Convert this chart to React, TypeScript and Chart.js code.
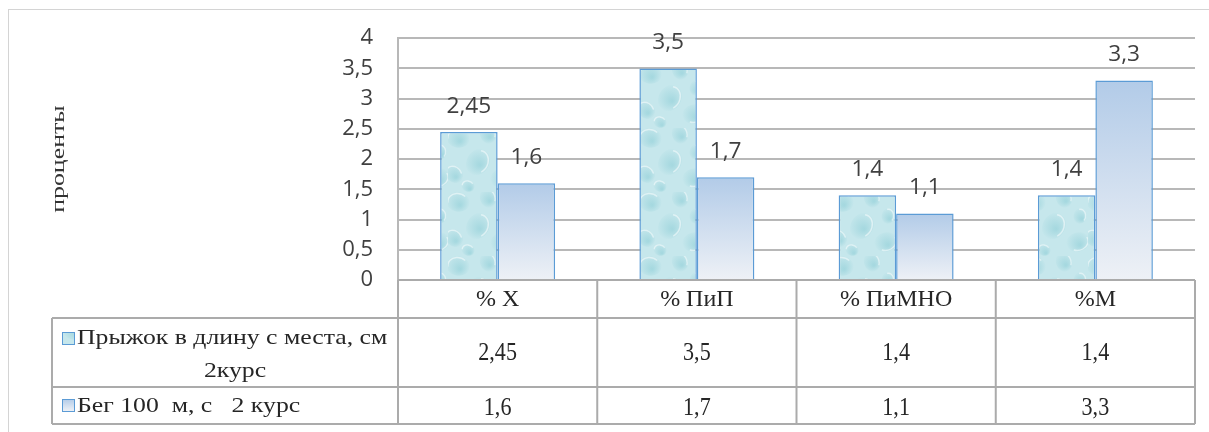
import React, { useEffect, useRef } from 'react';
import { Chart, registerables } from 'chart.js';

Chart.register(...registerables);

// ---------- data ----------
const CATEGORIES = ['% Х', '% ПиП', '% ПиМНО', '%М'];
const JUMP_LABEL_LINES = ['Прыжок в длину с места, см', '2курс'];
const RUN_LABEL = 'Бег 100  м, с   2 курс';
const JUMP_VALUES = [2.45, 3.5, 1.4, 1.4];
const RUN_VALUES = [1.6, 1.7, 1.1, 3.3];
const Y_TICKS = [0, 0.5, 1, 1.5, 2, 2.5, 3, 3.5, 4];
const Y_TITLE = 'проценты';

// ---------- layout / style ----------
const W = 1209;
const H = 432;
const AREA_LEFT = 398;
const PAD_TOP = 35;
const PAD_RIGHT = 14;
const PAD_BOTTOM = 152;
const TABLE_LEFT = 52;
const HEADER_BOTTOM = 318;
const ROW1_BOTTOM = 387;
const ROW2_BOTTOM = 424;
const GRID_COLOR = '#b8b8b8';
const TABLE_LINE = '#ababab';
const TEXT_COLOR = '#404040';
const TABLE_TEXT = '#262626';
const BAR_BORDER = '#5b9bd5';
const SERIF = '"Liberation Serif", "Times New Roman", serif';
const SANS = '"Open Sans", sans-serif';

const fmt = (v: number) => String(v).replace('.', ',');

function makeDropPattern(ctx: CanvasRenderingContext2D): CanvasPattern | string {
  const S = 64;
  const c = document.createElement('canvas');
  c.width = S;
  c.height = S;
  const p = c.getContext('2d');
  if (!p) return '#c4e6eb';
  p.fillStyle = '#c6e7ec';
  p.fillRect(0, 0, S, S);
  const blobs = [
    [10, 10, 12, 0.2],
    [40, 6, 10, 1.3],
    [30, 34, 14, 2.1],
    [6, 46, 10, 0.8],
    [54, 50, 12, 2.9],
    [56, 24, 8, 1.7],
    [20, 58, 7, 0.4],
  ];
  for (const [bx, by, r, a] of blobs) {
    const g = p.createRadialGradient(bx + 2, by + 3, 1, bx, by, r);
    g.addColorStop(0, 'rgba(140,205,214,0.55)');
    g.addColorStop(1, 'rgba(140,205,214,0)');
    p.fillStyle = g;
    p.beginPath();
    p.ellipse(bx, by, r, r * 0.8, a, 0, Math.PI * 2);
    p.fill();
    p.strokeStyle = 'rgba(255,255,255,0.5)';
    p.lineWidth = 1.4;
    p.beginPath();
    p.ellipse(bx, by, r * 0.85, r * 0.7, a, Math.PI * 0.9, Math.PI * 1.7);
    p.stroke();
  }
  return ctx.createPattern(c, 'repeat') || '#c4e6eb';
}

function drawStretched(
  ctx: CanvasRenderingContext2D,
  text: string,
  x: number,
  y: number,
  align: CanvasTextAlign,
  sx: number
) {
  ctx.save();
  ctx.translate(x, y);
  ctx.scale(sx, 1);
  ctx.textAlign = align;
  ctx.textBaseline = 'middle';
  ctx.fillText(text, 0, 0);
  ctx.restore();
}

export default function App() {
  const ref = useRef<HTMLCanvasElement | null>(null);

  useEffect(() => {
    const canvas = ref.current;
    if (!canvas) return;
    const ctx0 = canvas.getContext('2d');
    if (!ctx0) return;
    const pattern = makeDropPattern(ctx0);

    const runGradient = (context: any) => {
      const chart = context.chart;
      const y = chart.scales?.y;
      const v = typeof context.raw === 'number' ? context.raw : NaN;
      if (!y || !isFinite(v)) return '#c3d5ec';
      const top = y.getPixelForValue(v);
      const bottom = y.getPixelForValue(0);
      if (!isFinite(top) || !isFinite(bottom) || top === bottom) return '#c3d5ec';
      const g = chart.ctx.createLinearGradient(0, top, 0, bottom);
      g.addColorStop(0, '#b2cbe8');
      g.addColorStop(1, '#eef1f6');
      return g;
    };

    const labelsPlugin = {
      id: 'valueLabels',
      afterDatasetsDraw(chart: any) {
        const { ctx } = chart;
        ctx.save();
        ctx.fillStyle = TEXT_COLOR;
        ctx.font = `21px ${SANS}`;
        chart.data.datasets.forEach((ds: any, di: number) => {
          const meta = chart.getDatasetMeta(di);
          meta.data.forEach((el: any, i: number) => {
            drawStretched(ctx, fmt(ds.data[i]), el.x, el.y - 25, 'center', 1.08);
          });
        });
        ctx.restore();
      },
    };

    const tablePlugin = {
      id: 'dataTable',
      afterDraw(chart: any) {
        const { ctx, chartArea } = chart;
        const xs = chart.scales.x;
        const n = CATEGORIES.length;
        const left = chartArea.left;
        const right = chartArea.right;
        const bottom = chartArea.bottom;
        ctx.save();

        // outer frame
        ctx.strokeStyle = '#d4d4d4';
        ctx.lineWidth = 1;
        ctx.strokeRect(8.5, 9.5, W + 20, H + 20);

        // table grid
        ctx.strokeStyle = TABLE_LINE;
        ctx.lineWidth = 2;
        ctx.beginPath();
        ctx.moveTo(left, bottom);
        ctx.lineTo(right, bottom);
        for (const yy of [HEADER_BOTTOM, ROW1_BOTTOM, ROW2_BOTTOM]) {
          ctx.moveTo(TABLE_LEFT, yy);
          ctx.lineTo(right, yy);
        }
        ctx.moveTo(TABLE_LEFT, HEADER_BOTTOM);
        ctx.lineTo(TABLE_LEFT, ROW2_BOTTOM);
        for (let i = 0; i <= n; i++) {
          const bx = i === 0 ? left : i === n ? right : (xs.getPixelForValue(i - 1) + xs.getPixelForValue(i)) / 2;
          ctx.moveTo(bx, bottom);
          ctx.lineTo(bx, ROW2_BOTTOM);
        }
        ctx.stroke();

        // header + values
        ctx.fillStyle = TABLE_TEXT;
        CATEGORIES.forEach((c, i) => {
          const cx = xs.getPixelForValue(i);
          ctx.font = `24px ${SERIF}`;
          drawStretched(ctx, c, cx, 300, 'center', 1.0);
          ctx.font = `26px ${SERIF}`;
          drawStretched(ctx, fmt(JUMP_VALUES[i]), cx, 353, 'center', 0.85);
          drawStretched(ctx, fmt(RUN_VALUES[i]), cx, 408, 'center', 0.85);
        });

        // legend keys
        const keyX = 62;
        const keyS = 12;
        ctx.lineWidth = 1;
        ctx.strokeStyle = BAR_BORDER;
        ctx.fillStyle = pattern as any;
        ctx.fillRect(keyX, 332, keyS, keyS);
        ctx.strokeRect(keyX + 0.5, 332.5, keyS, keyS);
        const kg = ctx.createLinearGradient(0, 399, 0, 399 + keyS);
        kg.addColorStop(0, '#b2cbe8');
        kg.addColorStop(1, '#eef1f6');
        ctx.fillStyle = kg;
        ctx.fillRect(keyX, 399, keyS, keyS);
        ctx.strokeRect(keyX + 0.5, 399.5, keyS, keyS);

        // legend texts
        ctx.fillStyle = TABLE_TEXT;
        ctx.font = `22px ${SERIF}`;
        const textLeft = 77;
        const textCenter = 235;
        drawStretched(ctx, JUMP_LABEL_LINES[0], textLeft, 338, 'left', 1.17);
        drawStretched(ctx, JUMP_LABEL_LINES[1], textCenter, 371, 'center', 1.17);
        drawStretched(ctx, RUN_LABEL, textLeft, 406, 'left', 1.17);

        // y title
        ctx.save();
        ctx.fillStyle = '#333333';
        ctx.font = `19px ${SERIF}`;
        ctx.translate(59, (chartArea.top + chartArea.bottom) / 2);
        ctx.rotate(-Math.PI / 2);
        ctx.scale(1.36, 1);
        ctx.textAlign = 'center';
        ctx.textBaseline = 'middle';
        ctx.fillText(Y_TITLE, 0, 0);
        ctx.restore();

        ctx.restore();
      },
    };

    const chart = new Chart(canvas, {
      type: 'bar',
      data: {
        labels: CATEGORIES,
        datasets: [
          {
            label: JUMP_LABEL_LINES.join(' '),
            data: JUMP_VALUES,
            backgroundColor: pattern as any,
            borderColor: BAR_BORDER,
            borderWidth: 1.5,
            barPercentage: 1,
            categoryPercentage: 0.577,
          },
          {
            label: RUN_LABEL,
            data: RUN_VALUES,
            backgroundColor: runGradient as any,
            borderColor: BAR_BORDER,
            borderWidth: 1.5,
            barPercentage: 1,
            categoryPercentage: 0.577,
          },
        ],
      },
      options: {
        responsive: false,
        maintainAspectRatio: false,
        animation: false,
        devicePixelRatio: 1,
        layout: { padding: { left: 0, top: PAD_TOP, right: PAD_RIGHT, bottom: PAD_BOTTOM } },
        plugins: {
          legend: { display: false },
          tooltip: { enabled: false },
          title: { display: false },
        },
        scales: {
          x: {
            display: false,
          },
          y: {
            min: 0,
            max: 4,
            afterBuildTicks: (scale: any) => {
              scale.ticks = Y_TICKS.map((v) => ({ value: v }));
            },
            afterFit: (scale: any) => {
              scale.width = AREA_LEFT;
            },
            ticks: {
              padding: 25,
              color: TEXT_COLOR,
              font: { family: SANS, size: 22 },
              callback: (v: any) => fmt(Number(v)),
            },
            grid: { color: GRID_COLOR, lineWidth: 2, drawTicks: false },
            border: { display: true, color: GRID_COLOR, width: 2 },
          },
        },
      },
      plugins: [labelsPlugin, tablePlugin],
    });

    return () => chart.destroy();
  }, []);

  return (
    <div style={{ position: 'absolute', left: 0, top: 0, width: W, height: H, background: '#ffffff' }}>
      <canvas ref={ref} width={W} height={H} style={{ display: 'block', width: W, height: H }} />
    </div>
  );
}
